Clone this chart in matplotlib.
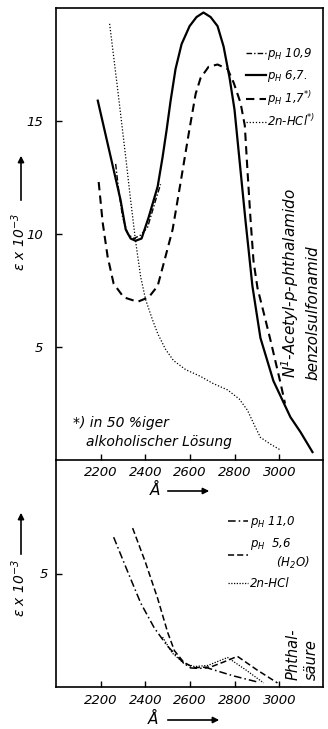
"""UV spectra: N1-acetyl-p-phthalamido-benzolsulfonamid (top) and phthalic acid (bottom)."""

import matplotlib
matplotlib.use("Agg")
import matplotlib.pyplot as plt
from matplotlib.patches import FancyArrowPatch

# --- top panel: N1-Acetyl-p-phthalamido-benzolsulfonamid ---
wl_ph109 = [2267, 2281, 2298, 2321, 2348, 2379, 2410, 2446, 2468]
eps_ph109 = [13.1, 11.9, 10.75, 10.0, 9.8, 9.95, 10.3, 11.5, 12.2]

wl_ph67 = [2187, 2245, 2289, 2312, 2334, 2356, 2383, 2415, 2455, 2477, 2495, 2513,
           2535, 2562, 2598, 2629, 2660, 2692, 2723, 2750, 2777, 2799, 2812, 2830,
           2848, 2862, 2879, 2915, 2973, 3049, 3094, 3148]
eps_ph67 = [15.9, 13.4, 11.5, 10.2, 9.8, 9.7, 9.8, 10.75, 12.1, 13.4, 14.6, 15.9,
            17.3, 18.4, 19.2, 19.6, 19.8, 19.6, 19.2, 18.3, 16.9, 15.5, 14.2, 12.4,
            10.6, 9.3, 7.7, 5.4, 3.5, 1.9, 1.24, 0.35]

wl_ph17 = [2191, 2209, 2231, 2258, 2303, 2365, 2415, 2455, 2482, 2522, 2558, 2595,
           2625, 2647, 2683, 2723, 2768, 2795, 2826, 2845, 2857, 2871, 2884, 2902,
           2930, 2960, 3005, 3025]
eps_ph17 = [12.3, 10.5, 9.0, 7.8, 7.2, 7.0, 7.2, 7.7, 8.7, 10.2, 12.3, 14.5,
            16.2, 16.9, 17.4, 17.5, 17.3, 16.7, 15.8, 14.8, 12.8, 10.6, 8.8, 7.6,
            6.5, 5.3, 3.4, 2.5]

wl_hcl = [2240, 2276, 2312, 2334, 2356, 2379, 2401, 2432, 2455, 2490, 2526, 2580,
          2647, 2700, 2768, 2820, 2857, 2890, 2915, 2960, 3005]
eps_hcl = [19.3, 16.4, 13.4, 11.5, 9.7, 8.1, 7.1, 6.2, 5.6, 4.9, 4.4, 4.0,
           3.7, 3.4, 3.1, 2.7, 2.2, 1.5, 1.0, 0.7, 0.44]

# --- bottom panel: Phthalsäure ---
wl_ph110 = [2258, 2320, 2379, 2440, 2499, 2571, 2602, 2640, 2678, 2790, 2902]
eps_ph110 = [6.6, 5.1, 3.7, 2.6, 1.8, 1.06, 0.84, 0.82, 0.84, 0.5, 0.22]

wl_ph56 = [2343, 2400, 2455, 2500, 2530, 2571, 2616, 2692, 2750, 2812, 2900, 2991]
eps_ph56 = [7.0, 5.5, 3.9, 2.4, 1.6, 1.1, 0.85, 0.88, 1.1, 1.35, 0.75, 0.18]

wl_hcl2 = [2477, 2520, 2571, 2620, 2680, 2730, 2768, 2850, 2929]
eps_hcl2 = [2.2, 1.5, 1.05, 0.9, 0.95, 1.15, 1.3, 0.75, 0.18]

xticks = [2200, 2400, 2600, 2800, 3000]

plt.rcParams["font.family"] = "DejaVu Sans"
plt.rcParams["font.style"] = "italic"
plt.rcParams["mathtext.default"] = "it"

fig = plt.figure(figsize=(3.28, 7.29), dpi=100)
W, H = 328, 729
x0, x1 = 56, 323
ax = fig.add_axes([x0 / W, 1 - 460 / H, (x1 - x0) / W, (460 - 8) / H])
ax2 = fig.add_axes([x0 / W, 1 - 687 / H, (x1 - x0) / W, (687 - 460) / H])
ax2.patch.set_visible(False)
ax2.spines["top"].set_visible(False)

ax.plot(wl_ph109, eps_ph109, color="black", lw=1.0, dashes=(4, 1.5, 1, 1.5), label=r"$p_H$ 10,9")
ax.plot(wl_ph67, eps_ph67, color="black", lw=1.6, label=r"$p_H$ 6,7.")
ax.plot(wl_ph17, eps_ph17, color="black", lw=1.5, dashes=(4, 2.5), label=r"$p_H$ 1,7$^{*)}$")
ax.plot(wl_hcl, eps_hcl, color="black", lw=0.9, dashes=(1, 1.5), label=r"2n-HCl$^{*)}$")

ax2.plot(wl_ph110, eps_ph110, color="black", lw=1.1, dashes=(5, 2, 1, 2), label=r"$p_H$ 11,0")
ax2.plot(wl_ph56, eps_ph56, color="black", lw=1.1, dashes=(4, 2), label="$p_H$  5,6\n       (H$_2$O)")
ax2.plot(wl_hcl2, eps_hcl2, color="black", lw=0.9, dashes=(1, 1.2), label="2n-HCl")

for a in (ax, ax2):
    a.set_xlim(2000, 3195)
    a.set_xticks(xticks)
    a.set_xticklabels([str(t) for t in xticks], fontsize=9.5)
    a.tick_params(direction="in", length=4, width=1)
    for s in a.spines.values():
        s.set_linewidth(1.2)

ax.set_ylim(0, 20)
ax.set_yticks([5, 10, 15])
ax.set_yticklabels(["5", "10", "15"], fontsize=9.5)
ax.tick_params(axis="y", pad=9)
ax.tick_params(axis="x", pad=4)

ax2.set_ylim(0, 10)
ax2.set_yticks([5])
ax2.set_yticklabels(["5"], fontsize=9.5)
ax2.tick_params(axis="y", pad=6)
ax2.tick_params(axis="x", pad=5)

leg_kw = dict(frameon=False, fontsize=8.5, handlelength=1.7, handletextpad=0.15,
              borderaxespad=0, borderpad=0)
ax.legend(loc="upper left", bbox_to_anchor=(0.71, 0.915), labelspacing=0.45, **leg_kw)
ax2.legend(loc="upper left", bbox_to_anchor=(0.645, 0.76), labelspacing=0.5, **leg_kw)

# footnote and substance names
ax.text(0.064, 0.082, "*) in 50 %iger", transform=ax.transAxes, fontsize=10, va="center")
ax.text(0.112, 0.040, "alkoholischer Lösung", transform=ax.transAxes, fontsize=10, va="center")
ax.text(0.876, 0.181, "N$^1$-Acetyl-p-phthalamido", transform=ax.transAxes, fontsize=11,
        rotation=90, ha="center", va="bottom")
ax.text(0.9625, 0.177, "benzolsulfonamid", transform=ax.transAxes, fontsize=11,
        rotation=90, ha="center", va="bottom")
ax2.text(0.888, 0.031, "Phthal-", transform=ax2.transAxes, fontsize=10.5,
         rotation=90, ha="center", va="bottom")
ax2.text(0.955, 0.031, "säure", transform=ax2.transAxes, fontsize=10.5,
         rotation=90, ha="center", va="bottom")

# axis labels with arrows (figure fraction)
arrow = dict(arrowstyle="-|>", color="black", lw=1.2, mutation_scale=9)
fig.text(19 / W, 1 - 242 / H, r"$\varepsilon$ x 10$^{-3}$", rotation=90,
         ha="center", va="center", fontsize=10)
fig.add_artist(FancyArrowPatch((21 / W, 1 - 203 / H), (21 / W, 1 - 153 / H),
                               transform=fig.transFigure, **arrow))
fig.text(19 / W, 1 - 588 / H, r"$\varepsilon$ x 10$^{-3}$", rotation=90,
         ha="center", va="center", fontsize=10)
fig.add_artist(FancyArrowPatch((21 / W, 1 - 557 / H), (21 / W, 1 - 510 / H),
                               transform=fig.transFigure, **arrow))
fig.text(155 / W, 1 - 490 / H, "Å", ha="center", va="center", fontsize=11)
fig.add_artist(FancyArrowPatch((165 / W, 1 - 491 / H), (212 / W, 1 - 491 / H),
                               transform=fig.transFigure, **arrow))
fig.text(153 / W, 1 - 719 / H, "Å", ha="center", va="center", fontsize=11)
fig.add_artist(FancyArrowPatch((165 / W, 1 - 720 / H), (222 / W, 1 - 720 / H),
                               transform=fig.transFigure, **arrow))

fig.savefig("out.png", dpi=100)
